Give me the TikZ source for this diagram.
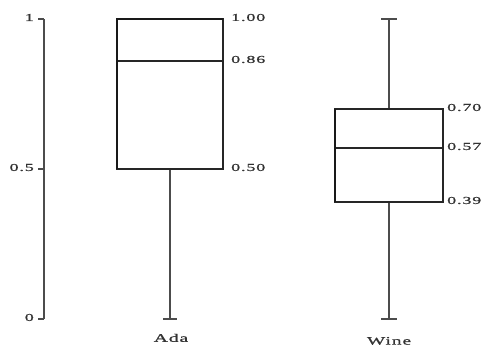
\documentclass[tikz,border=0pt]{standalone}
\usepackage{fontspec}
\setmainfont{Liberation Serif}[FakeStretch=1.7,LetterSpace=8,FakeBold=1]
\begin{document}
\begin{tikzpicture}[x=1pt,y=300pt,
    box/.style={draw=black!85,line width=1.6pt},
    edge/.style={draw=black!90,line width=2.8pt},
    whisk/.style={draw=black!70,line width=2pt},
    val/.style={font=\fontsize{10.6}{11}\selectfont,text=black!80,inner sep=0pt},
    group/.style={font=\fontsize{11.5}{12}\selectfont,text=black!80,inner sep=0pt}]
  \useasboundingbox (0,-0.1) rectangle (487,1.0633);
  % axis
  \draw[whisk,line width=2.6pt] (44,0) -- (44,1);
  \foreach \v/\t in {0/0, 0.5/0.5, 1/1} {
    \draw[whisk] (38,\v) -- (44,\v);
    \node[val,anchor=east] (tick\t) at (34,\v+0.005) {\t};
  }
  % Ada
  \draw[whisk] (170,0.5) -- (170,0);
  \draw[whisk] (163,0) -- (177,0);
  \draw[box] (117,0.5) rectangle (223,1);
  \draw[box] (117,0.86) -- (223,0.86);
  \draw[edge] (117,0.5) -- (117,1) -- (223,1);
  \foreach \v/\t in {1/1.00, 0.86/0.86, 0.5/0.50} {
    \node[val,anchor=west] (ada\t) at (231,\v+0.005) {\t};
  }
  \node[group] (ada) at (171,-0.063) {Ada};
  % Wine
  \draw[whisk] (389,0.70) -- (389,1);
  \draw[whisk] (389,0.39) -- (389,0);
  \foreach \v in {0, 1} {
    \draw[whisk] (381,\v) -- (397,\v);
  }
  \draw[box] (335,0.39) rectangle (443,0.70);
  \draw[box,line width=2pt] (335,0.57) -- (443,0.57);
  \draw[edge,line width=2.4pt] (335,0.39) -- (335,0.70);
  \foreach \v/\t in {0.70/0.70, 0.57/0.57, 0.39/0.39} {
    \node[val,anchor=west] (wine\t) at (447,\v+0.005) {\t};
  }
  \node[group] (wine) at (389,-0.073) {Wine};
\end{tikzpicture}
\end{document}
